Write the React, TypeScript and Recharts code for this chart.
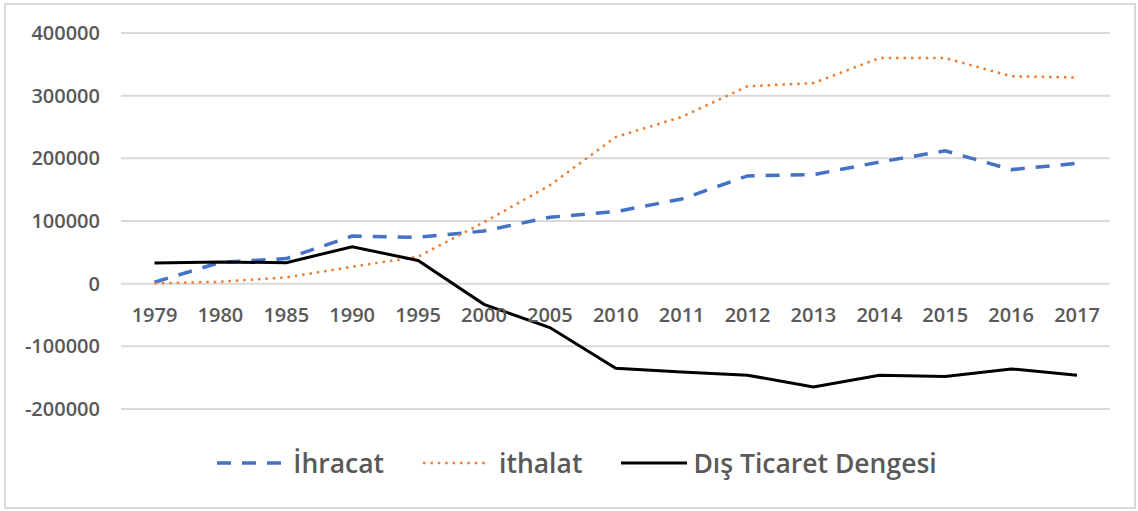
import { LineChart, Line, XAxis, YAxis, CartesianGrid } from 'recharts';

// values
const years = ['1979', '1980', '1985', '1990', '1995', '2000', '2005', '2010', '2011', '2012', '2013', '2014', '2015', '2016', '2017'];
const ihracat = [2300, 34000, 40000, 76000, 74000, 84000, 106000, 115000, 135000, 172000, 174000, 194000, 212000, 182000, 192000];
const ithalat = [500, 3000, 10000, 27000, 43000, 98000, 157000, 234000, 266000, 315000, 320000, 360000, 360000, 331000, 329000];
const denge = [33000, 34500, 33500, 59000, 37000, -33000, -70000, -135000, -141000, -146000, -165000, -146000, -148000, -136000, -146000];
const yTicks = [-200000, -100000, 0, 100000, 200000, 300000, 400000];

const data = years.map((year, i) => ({
  year,
  ihracat: ihracat[i],
  ithalat: ithalat[i],
  denge: denge[i],
}));

const WIDTH = 1138;
const HEIGHT = 511;
const MARGIN = { top: 33, right: 28, bottom: 72, left: 0 };
const X_AXIS_H = 30;
const PLOT_H = HEIGHT - MARGIN.top - MARGIN.bottom - X_AXIS_H;
const Y_MIN = -200000;
const Y_MAX = 400000;
const ZERO_Y = MARGIN.top + (PLOT_H * (Y_MAX - 0)) / (Y_MAX - Y_MIN);

const FONT = '"Open Sans", sans-serif';
const TEXT = '#595959';

const series = [
  { key: 'ihracat', name: 'İhracat', color: '#4472C4', width: 3.5, dash: '14 11' },
  { key: 'ithalat', name: 'ithalat', color: '#ED7D31', width: 2.5, dash: '2.5 4.9' },
  { key: 'denge', name: 'Dış Ticaret Dengesi', color: '#000000', width: 3, dash: undefined },
];

// category labels sit just under the zero line, like in Excel
const YearTick = ({ x, payload }: any) => (
  <text x={x} y={ZERO_Y + 31} textAnchor="middle" dominantBaseline="central"
    fill={TEXT} fontFamily={FONT} fontSize={20} fontWeight={600}>
    {payload.value}
  </text>
);

// legend is drawn outside the chart so it doesn't eat into the plot area
const ChartLegend = () => (
  <div style={{ position: 'absolute', left: 8, top: 450, width: WIDTH, display: 'flex', justifyContent: 'center',
    alignItems: 'center', gap: 39, fontFamily: FONT }}>
    {series.map(s => (
      <div key={s.key} style={{ display: 'flex', alignItems: 'center' }}>
        <svg width={66} height={10} style={{ marginRight: s.key === 'denge' ? 6 : 10 }}>
          <line x1={0} y1={5} x2={66} y2={5} stroke={s.color} strokeWidth={s.width} strokeDasharray={s.dash} />
        </svg>
        <span style={{ fontSize: 26.5, color: TEXT, fontWeight: 600, lineHeight: 1 }}>{s.name}</span>
      </div>
    ))}
  </div>
);

export default function App() {
  return (
    <div style={{ position: 'absolute', left: 0, top: 0, width: WIDTH, height: HEIGHT, background: '#fff' }}>
      <div style={{ position: 'absolute', left: 4, top: 3, width: 1128, height: 502, border: '2px solid #d9d9d9' }} />
      <LineChart width={WIDTH} height={HEIGHT} data={data} margin={MARGIN}>
        <CartesianGrid vertical={false} stroke="#d9d9d9" strokeWidth={2} />
        <XAxis dataKey="year" interval={0} axisLine={false} tickLine={false} tickSize={0} tickMargin={0}
          height={X_AXIS_H} padding={{ left: 33.5, right: 33 }} tick={<YearTick />} />
        <YAxis domain={[Y_MIN, Y_MAX]} ticks={yTicks} width={121} axisLine={false} tickLine={false}
          tickSize={0} tickMargin={21}
          tick={{ fill: TEXT, fontFamily: FONT, fontSize: 20, fontWeight: 600 }} />
        {series.map(s => (
          <Line key={s.key} type="linear" dataKey={s.key} name={s.name} stroke={s.color}
            strokeWidth={s.width} strokeDasharray={s.dash} dot={false} isAnimationActive={false} />
        ))}
      </LineChart>
      <ChartLegend />
    </div>
  );
}
